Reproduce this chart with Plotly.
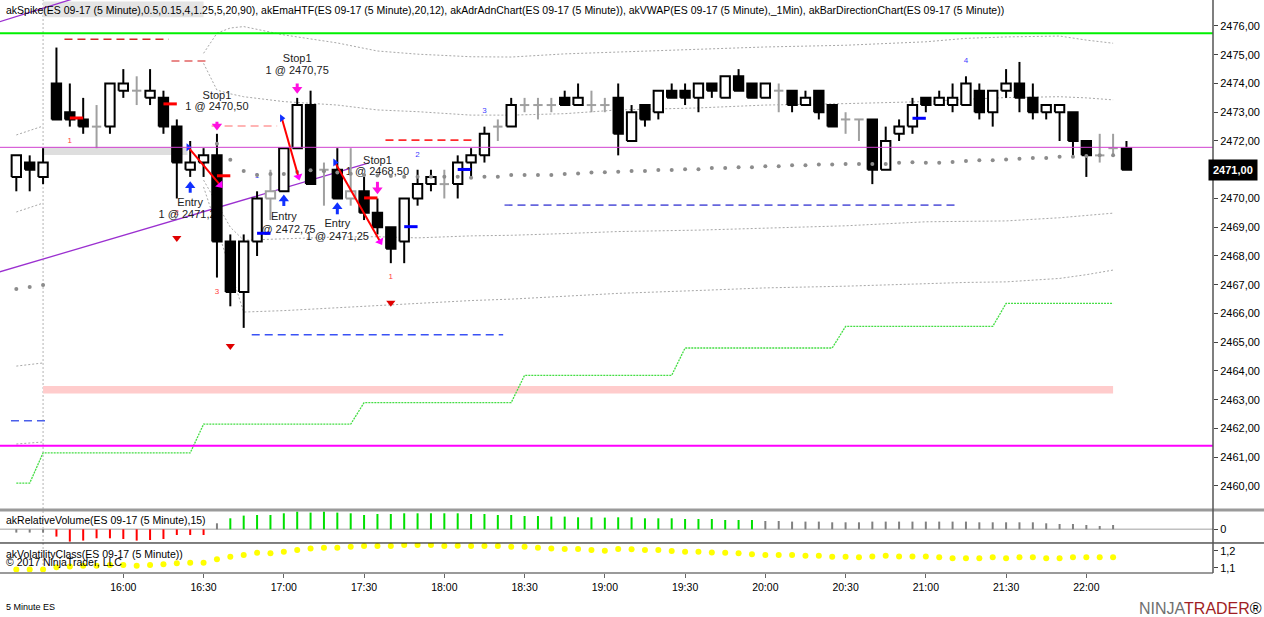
import plotly.graph_objects as go

# ---------------- data ----------------
# 5 minute bars of ES 09-17, index 0 = the 16:00 bar (index -8 = 15:20)
bars = list(range(-8, 76))

opens = [2470.75, 2471.25, 2470.75, 2474.0, 2473.0, 2472.75, 2472.5, 2472.5,
         2473.75, 2473.75, 2473.5, 2473.5, 2472.5, 2471.0, 2471.25, 2471.5,
         2468.5, 2466.75, 2468.5, 2470.0, 2470.25, 2471.75, 2473.25, 2471.0,
         2471.0, 2470.0, 2470.25, 2469.5, 2469.0, 2468.5, 2470.0, 2470.5,
         2470.5, 2470.5, 2471.25, 2471.5, 2472.5, 2472.5, 2473.25, 2473.25,
         2473.25, 2473.5, 2473.25, 2473.25, 2473.25, 2473.5, 2472.0, 2473.25,
         2473.0, 2473.75, 2473.75, 2473.5, 2474.0, 2473.5, 2474.25, 2474.0,
         2473.5, 2473.75, 2473.75, 2473.25, 2473.75, 2473.25, 2472.75, 2472.75,
         2472.75, 2471.0, 2472.25, 2472.5, 2473.5, 2473.25, 2473.25, 2473.25,
         2473.75, 2473.0, 2473.75, 2474.0, 2473.5, 2473.0, 2473.0, 2473.0,
         2472.0, 2471.5, 2471.75, 2471.75]
highs = [2471.5, 2471.5, 2471.75, 2475.25, 2474.0, 2473.5, 2473.25, 2474.0,
         2474.5, 2474.25, 2474.5, 2473.75, 2472.75, 2472.0, 2471.75, 2472.25,
         2468.75, 2468.75, 2470.25, 2471.0, 2471.75, 2473.5, 2473.75, 2471.25,
         2471.75, 2471.75, 2470.75, 2470.0, 2469.0, 2470.0, 2471.0, 2471.0,
         2471.0, 2471.5, 2471.75, 2472.5, 2472.75, 2473.5, 2473.5, 2473.5,
         2473.5, 2473.75, 2474.0, 2473.75, 2473.5, 2474.0, 2473.25, 2473.25,
         2473.75, 2474.0, 2474.0, 2474.0, 2474.0, 2474.25, 2474.5, 2474.0,
         2474.0, 2474.0, 2473.75, 2473.75, 2473.75, 2473.25, 2473.0, 2472.75,
         2472.75, 2472.5, 2472.75, 2473.5, 2473.5, 2473.75, 2474.0, 2474.25,
         2474.0, 2473.75, 2474.5, 2474.75, 2474.0, 2473.25, 2473.25, 2473.0,
         2472.0, 2472.25, 2472.25, 2472.0]
lows = [2470.25, 2470.25, 2470.5, 2472.75, 2472.5, 2472.25, 2471.75, 2472.25,
        2473.5, 2473.25, 2473.25, 2472.25, 2470.0, 2470.75, 2470.75, 2467.25,
        2466.25, 2465.5, 2468.0, 2469.25, 2470.25, 2471.75, 2470.5, 2469.75,
        2470.0, 2469.75, 2469.25, 2468.75, 2467.75, 2467.75, 2469.75, 2470.25,
        2470.0, 2470.0, 2470.75, 2471.25, 2472.0, 2472.5, 2473.0, 2472.75,
        2473.0, 2473.25, 2473.25, 2473.0, 2473.0, 2471.5, 2472.0, 2472.5,
        2472.75, 2473.5, 2473.25, 2473.0, 2473.5, 2473.5, 2473.75, 2473.5,
        2473.5, 2473.0, 2473.0, 2473.25, 2472.75, 2472.5, 2472.25, 2472.0,
        2470.5, 2471.0, 2472.0, 2472.25, 2473.0, 2473.25, 2473.0, 2473.25,
        2472.75, 2472.5, 2473.5, 2473.0, 2472.75, 2472.75, 2472.0, 2471.5,
        2470.75, 2471.25, 2471.5, 2471.0]
closes = [2471.5, 2471.0, 2471.25, 2472.75, 2472.75, 2472.5, 2472.5, 2474.0,
          2474.0, 2473.75, 2473.75, 2472.5, 2471.25, 2471.25, 2471.5, 2468.5,
          2466.75, 2468.5, 2470.0, 2470.25, 2471.75, 2473.25, 2470.5, 2471.0,
          2470.0, 2470.25, 2469.5, 2469.0, 2468.25, 2470.0, 2470.5, 2470.75,
          2470.5, 2471.25, 2471.5, 2472.25, 2472.5, 2473.25, 2473.25, 2473.25,
          2473.25, 2473.25, 2473.5, 2473.25, 2473.25, 2472.25, 2473.0, 2472.75,
          2473.75, 2473.5, 2473.5, 2474.0, 2473.75, 2474.25, 2473.75, 2473.5,
          2474.0, 2473.75, 2473.25, 2473.5, 2473.0, 2472.5, 2472.75, 2472.75,
          2471.0, 2472.0, 2472.5, 2473.25, 2473.25, 2473.5, 2473.5, 2474.0,
          2473.0, 2473.75, 2474.0, 2473.5, 2473.0, 2473.25, 2473.25, 2472.0,
          2471.5, 2471.5, 2471.75, 2471.0]
# bars painted grey by akBarDirectionChart
neutral_bars = [-2, 1, 11, 15, 17, 24, 28, 30, 31, 32, 35, 36, 49, 54, 55, 73, 74]

tick_bars = [0, 6, 12, 18, 24, 30, 36, 42, 48, 54, 60, 66, 72]
tick_labels = ['16:00', '16:30', '17:00', '17:30', '18:00', '18:30', '19:00',
               '19:30', '20:00', '20:30', '21:00', '21:30', '22:00']
session_break = -6

# akVWAP dots
vwap_bars = [-8, -7, -6] + list(range(7, 75))
vwap = [2466.85, 2466.92, 2466.99,
        2471.9, 2471.35, 2470.96, 2470.82, 2470.85, 2470.85, 2470.92, 2470.98,
        2470.95, 2470.9, 2470.86, 2470.82, 2470.8, 2470.78, 2470.76, 2470.76,
        2470.76, 2470.76, 2470.76, 2470.72, 2470.76, 2470.76, 2470.82, 2470.82,
        2470.82, 2470.82, 2470.85, 2470.87, 2470.9, 2470.91, 2470.93, 2470.96,
        2470.96, 2470.99, 2470.99, 2471.02, 2471.02, 2471.06, 2471.06, 2471.09,
        2471.09, 2471.12, 2471.12, 2471.16, 2471.16, 2471.18, 2471.18, 2471.2,
        2471.2, 2471.2, 2471.2, 2471.24, 2471.26, 2471.24, 2471.24, 2471.27,
        2471.3, 2471.33, 2471.33, 2471.36, 2471.38, 2471.41, 2471.41, 2471.45,
        2471.45, 2471.48, 2471.5, 2471.5]

# deviation bands around the VWAP (read at selected bars, None = gap)
band_bars = [-8, -6, None, 6, 7, 8, 9, 12, 16, 19, 22, 26, 29, 33, 37, 43,
             48, 54, 60, 63, 66, 70, 72, 74]
band_top = [2472.21, 2472.52, None, 2475.05, 2475.75, 2475.93, 2475.98, 2475.69,
            2475.41, 2475.13, 2475.02, 2474.93, 2474.92, 2475.03, 2475.1, 2475.2,
            2475.27, 2475.33, 2475.45, 2475.57, 2475.62, 2475.65, 2475.51, 2475.4]
band_up = [2469.53, 2469.84, None, 2474.7, 2473.77, 2473.64, 2473.54, 2473.37,
           2473.25, 2473.08, 2473.02, 2472.9, 2472.9, 2472.95, 2473.08, 2473.15,
           2473.25, 2473.3, 2473.37, 2473.45, 2473.51, 2473.54, 2473.5, 2473.43]
band_dn = [2464.17, 2464.28, None, 2470.64, 2469.8, 2469.0, 2468.55, 2468.6,
           2468.66, 2468.67, 2468.63, 2468.7, 2468.72, 2468.78, 2468.85, 2468.9,
           2468.97, 2469.05, 2469.19, 2469.2, 2469.22, 2469.33, 2469.4, 2469.49]
band_low = [2461.46, 2461.53, None, 2470.4, 2469.0, 2467.5, 2466.05, 2466.1,
            2466.2, 2466.3, 2466.35, 2466.45, 2466.5, 2466.6, 2466.7, 2466.8,
            2466.89, 2466.95, 2467.05, 2467.08, 2467.1, 2467.22, 2467.35, 2467.51]

# akAdrAdnChart step line (corners)
adr_bars = [-8, -7, -6, 5, 6, 17, 18, 29, 30, 41, 42, 53, 54, 65, 66, 74]
adr_vals = [2460.1, 2460.1, 2461.15, 2461.15, 2462.15, 2462.15, 2462.9, 2462.9,
            2463.85, 2463.85, 2464.8, 2464.8, 2465.55, 2465.55, 2466.35, 2466.35]

# akEmaHTF channel (purple)
chan_lo_x = [-9.3, 18.3]
chan_lo_y = [2467.44, 2471.23]
chan_hi_x = [-9.3, -3.5]
chan_hi_y = [2476.14, 2476.98]

# full width levels
level_green = 2475.75
level_magenta = 2461.4
level_thin = 2471.78

# short dashed levels
dash_x0 = [-4.4, 3.6, 6.6, 19.6, 9.6, 28.5, -8.4]
dash_x1 = [3.4, 6.3, 11.5, 26.3, 28.4, 62.4, -5.6]
dash_px = [2475.54, 2474.78, 2472.52, 2472.03, 2465.26, 2469.77, 2462.27]
dash_colors = ['#D02A2A', '#E26464', '#FF9C9C', '#FF2A2A', '#3A52F5', '#6666DD', '#4A5FEA']

# zones
pink_zone = (-6, 74, 2463.22, 2463.48)
spike_zone = (-6, 4.8, 2471.51, 2471.79)
header_zone = (-6, 6, 2476.3, 2476.85)

# akEmaHTF crossing ticks
red_tick_bars = [-4, 3, 7, 18]
red_tick_px = [2472.8, 2473.29, 2470.79, 2470.02]
blue_tick_bars = [10, 21, 25, 59]
blue_tick_px = [2468.79, 2469.02, 2471.01, 2472.79]

# akSpike counters and triangles
red_num_bars = [-4, 4, 7, 20]
red_num_px = [2472.0, 2469.5, 2466.75, 2467.27]
red_num_txt = ['1', '2', '3', '1']
blue_num_bars = [10, 22, 27, 63]
blue_num_px = [2470.78, 2471.51, 2473.04, 2474.78]
blue_num_txt = ['1', '2', '3', '4']
red_tri_bars = [4, 8, 20]
red_tri_px = [2468.63, 2464.87, 2466.37]

# signal legs (blue start triangle -> magenta head)
leg_x0 = [4.86, 11.85, 15.83]
leg_y0 = [2471.78, 2472.79, 2471.25]
leg_x1 = [7.23, 13.09, 19.2]
leg_y1 = [2470.47, 2470.76, 2468.5]

# executions
entry_bars = [5, 12, 16]
entry_tip = [2470.58, 2470.12, 2469.85]
entry_base = [2470.2, 2469.74, 2469.45]
entry_label_px = [2469.85, 2469.35, 2469.11]
entry_txt = ['1 @ 2471,25', '1 @ 2472,75', '1 @ 2471,25']
entry_txt_px = [2469.43, 2468.9, 2468.65]
stop_bars = [7, 13, 19]
stop_tip = [2472.38, 2473.66, 2470.16]
stop_base = [2472.67, 2474.0, 2470.58]
stop_label_px = [2473.57, 2474.84, 2471.31]
stop_txt = ['1 @ 2470,50', '1 @ 2470,75', '1 @ 2468,50']
stop_txt_px = [2473.17, 2474.43, 2470.91]

# akRelativeVolume (bars -8..74)
rvol = [-0.33, -0.33, -0.33, -0.73, -1.23, -1.13, -0.9, -0.9,
        -0.97, -1.13, -1.07, -0.97, -0.57, -0.57, -0.57, 0.6,
        1.1, 1.37, 1.43, 1.43, 1.6, 1.77, 1.67, 1.77,
        1.67, 1.6, 1.43, 1.53, 1.53, 1.6, 1.6, 1.6,
        1.6, 1.6, 1.53, 1.53, 1.43, 1.43, 1.33, 1.33,
        1.27, 1.27, 1.2, 1.2, 1.17, 1.2, 1.2, 1.1,
        1.1, 1.1, 1.03, 1.03, 1.03, 0.93, 0.93, 0.93,
        0.83, 0.83, 0.77, 0.77, 0.77, 0.7, 0.7, 0.7,
        0.77, 0.77, 0.77, 0.77, 0.77, 0.77, 0.77, 0.77,
        0.7, 0.7, 0.7, 0.7, 0.7, 0.6, 0.53, 0.53,
        0.43, 0.33, 0.43]
red_rvol = range(-5, 7)
green_rvol = range(8, 48)

# akVolatilityClass (bars -8..74)
volclass = [1.092, 1.092, 1.092, 1.104, 1.108, 1.113, 1.113, 1.117,
            1.117, 1.113, 1.117, 1.121, 1.127, 1.131, 1.131, 1.150,
            1.165, 1.175, 1.188, 1.185, 1.194, 1.204, 1.213, 1.217,
            1.217, 1.223, 1.227, 1.227, 1.227, 1.233, 1.233, 1.233,
            1.227, 1.229, 1.227, 1.227, 1.227, 1.223, 1.223, 1.217,
            1.213, 1.210, 1.210, 1.204, 1.200, 1.210, 1.208, 1.204,
            1.204, 1.198, 1.194, 1.194, 1.190, 1.188, 1.185, 1.179,
            1.175, 1.175, 1.175, 1.171, 1.171, 1.165, 1.165, 1.162,
            1.167, 1.171, 1.167, 1.167, 1.167, 1.162, 1.156, 1.156,
            1.156, 1.162, 1.156, 1.162, 1.162, 1.156, 1.156, 1.162,
            1.162, 1.162, 1.162]

title_txt = ('akSpike(ES 09-17 (5 Minute),0.5,0.15,4,1.25,5,20,90), akEmaHTF(ES 09-17 (5 Minute),20,12), '
             'akAdrAdnChart(ES 09-17 (5 Minute)), akVWAP(ES 09-17 (5 Minute),_1Min), '
             'akBarDirectionChart(ES 09-17 (5 Minute))')

# ---------------- figure ----------------
FONT = 'Liberation Sans, Arial, sans-serif'
W = 0.35      # half candle width in bars
HEAD = 0.14   # arrow head centre offset from the tip (price units)
fig = go.Figure()

# bands, step line, channel, dashed levels
for vals in (band_top, band_up, band_dn, band_low):
    fig.add_trace(go.Scatter(x=band_bars, y=vals, mode='lines', connectgaps=False,
                             line=dict(color='#A8A8A8', width=1, dash='2px,2px')))
fig.add_trace(go.Scatter(x=adr_bars, y=adr_vals, mode='lines',
                         line=dict(color='#44DD44', width=1.3, dash='2px,1px')))
fig.add_trace(go.Scatter(x=chan_lo_x, y=chan_lo_y, mode='lines', line=dict(color='#9B30D0', width=1.3)))
fig.add_trace(go.Scatter(x=chan_hi_x, y=chan_hi_y, mode='lines', line=dict(color='#9B30D0', width=1.3)))
for x0, x1, p, col in zip(dash_x0, dash_x1, dash_px, dash_colors):
    fig.add_trace(go.Scatter(x=[x0, x1], y=[p, p], mode='lines',
                             line=dict(color=col, width=1.6, dash='8px,5px')))

# small counters and the order texts (drawn below the candles)
fig.add_trace(go.Scatter(x=red_num_bars, y=red_num_px, text=red_num_txt, mode='text',
                         textfont=dict(family=FONT, size=8, color='#FF4040')))
fig.add_trace(go.Scatter(x=blue_num_bars, y=blue_num_px, text=blue_num_txt, mode='text',
                         textfont=dict(family=FONT, size=8, color='#4040FF')))
fig.add_trace(go.Scatter(x=entry_bars + stop_bars, y=entry_label_px + stop_label_px,
                         text=['Entry'] * len(entry_bars) + ['Stop1'] * len(stop_bars),
                         mode='text', textfont=dict(family=FONT, size=11, color='#222')))
fig.add_trace(go.Scatter(x=entry_bars + stop_bars, y=entry_txt_px + stop_txt_px,
                         text=entry_txt + stop_txt,
                         mode='text', textfont=dict(family=FONT, size=11, color='#222')))

# candles
wick_x, wick_y, gwick_x, gwick_y = [], [], [], []
up_x, up_y, dn_x, dn_y, gb_x, gb_y, doji_x, doji_y = [], [], [], [], [], [], [], []
for b, o, h, l, c in zip(bars, opens, highs, lows, closes):
    gray = b in neutral_bars
    if gray:
        gwick_x += [b, b, None]
        gwick_y += [l, h, None]
    else:
        wick_x += [b, b, None]
        wick_y += [l, h, None]
    lo, hi = min(o, c), max(o, c)
    bx = [b - W, b + W, b + W, b - W, b - W, None]
    by = [lo, lo, hi, hi, lo, None]
    if o == c:
        doji_x += [b - W, b + W, None]
        doji_y += [o, o, None]
    elif gray:
        gb_x += bx
        gb_y += by
    elif c > o:
        up_x += bx
        up_y += by
    else:
        dn_x += bx
        dn_y += by

fig.add_trace(go.Scatter(x=gwick_x, y=gwick_y, mode='lines', line=dict(color='#A0A0A0', width=2)))
fig.add_trace(go.Scatter(x=wick_x, y=wick_y, mode='lines', line=dict(color='black', width=2)))
fig.add_trace(go.Scatter(x=up_x, y=up_y, mode='lines', fill='toself', fillcolor='white',
                         line=dict(color='black', width=2)))
fig.add_trace(go.Scatter(x=dn_x, y=dn_y, mode='lines', fill='toself', fillcolor='black',
                         line=dict(color='black', width=2)))
fig.add_trace(go.Scatter(x=gb_x, y=gb_y, mode='lines', fill='toself', fillcolor='white',
                         line=dict(color='#A0A0A0', width=2)))
fig.add_trace(go.Scatter(x=doji_x, y=doji_y, mode='lines', line=dict(color='#A0A0A0', width=2)))

# vwap dots
fig.add_trace(go.Scatter(x=vwap_bars, y=vwap, mode='markers',
                         marker=dict(color='#8C8C8C', size=4)))

# ema ticks
for tb, tp, col in ((red_tick_bars, red_tick_px, '#FF0000'), (blue_tick_bars, blue_tick_px, '#0000FF')):
    tx, ty = [], []
    for b, p in zip(tb, tp):
        tx += [b, b + 1, None]
        ty += [p, p, None]
    fig.add_trace(go.Scatter(x=tx, y=ty, mode='lines', line=dict(color=col, width=3)))

# signal legs: red line, then magenta head on top
lx, ly = [], []
for x0, y0, x1, y1 in zip(leg_x0, leg_y0, leg_x1, leg_y1):
    lx += [x0, x1, None]
    ly += [y0, y1, None]
fig.add_trace(go.Scatter(x=lx, y=ly, mode='lines', line=dict(color='#FF0000', width=2)))
for x0, y0, x1, y1 in zip(leg_x0, leg_y0, leg_x1, leg_y1):
    fig.add_trace(go.Scatter(x=[x0, x1], y=[y0, y1], mode='markers',
                             marker=dict(symbol='triangle-up', size=8, angleref='previous',
                                         color=['rgba(0,0,0,0)', '#FF00FF'])))
fig.add_trace(go.Scatter(x=leg_x0, y=leg_y0, mode='markers',
                         marker=dict(symbol='triangle-right', size=7, color='#1030FF')))
fig.add_trace(go.Scatter(x=red_tri_bars, y=red_tri_px, mode='markers',
                         marker=dict(symbol='triangle-down', size=8, color='#E00000')))

# entry (blue, up) and stop (magenta, down) arrows
for xs, tips, bases, col, sym, sgn in ((entry_bars, entry_tip, entry_base, '#1030FF', 'triangle-up', -1),
                                       (stop_bars, stop_tip, stop_base, '#FF10E0', 'triangle-down', 1)):
    sx, sy = [], []
    for b, t, s in zip(xs, tips, bases):
        sx += [b, b, None]
        sy += [s, t + sgn * HEAD, None]
    fig.add_trace(go.Scatter(x=sx, y=sy, mode='lines', line=dict(color=col, width=3)))
    fig.add_trace(go.Scatter(x=xs, y=[t + sgn * HEAD for t in tips], mode='markers',
                             marker=dict(symbol=sym, size=9, color=col)))

# lower panels
vx = {'gray': [], 'red': [], 'green': []}
vy = {'gray': [], 'red': [], 'green': []}
for b, v in zip(bars, rvol):
    key = 'red' if b in red_rvol else ('green' if b in green_rvol else 'gray')
    vx[key] += [b, b, None]
    vy[key] += [0, v, None]
for key, col in (('gray', '#808080'), ('red', '#FF0000'), ('green', '#00E000')):
    fig.add_trace(go.Scatter(x=vx[key], y=vy[key], mode='lines', yaxis='y2',
                             line=dict(color=col, width=2)))
fig.add_trace(go.Scatter(x=bars[:len(volclass)], y=volclass, mode='markers', yaxis='y3',
                         marker=dict(color='#FFFF00', size=6)))

# zones and levels
shapes = []
for (x0, x1, y0, y1), col in ((pink_zone, '#FFCCCC'), (spike_zone, '#DEDEDE'), (header_zone, '#E4E4E4')):
    shapes.append(dict(type='rect', xref='x', yref='y', x0=x0, x1=x1, y0=y0, y1=y1,
                       fillcolor=col, line=dict(width=0), layer='below'))
shapes.append(dict(type='line', xref='x', yref='paper', x0=session_break, x1=session_break,
                   y0=0, y1=1, line=dict(color='#B4B4B4', width=1, dash='2px,2px'), layer='below'))
shapes.append(dict(type='line', xref='paper', yref='y', x0=0, x1=1, y0=level_green, y1=level_green,
                   line=dict(color='#00F000', width=2)))
shapes.append(dict(type='line', xref='paper', yref='y', x0=0, x1=1, y0=level_magenta, y1=level_magenta,
                   line=dict(color='#FF00FF', width=2)))
shapes.append(dict(type='line', xref='paper', yref='y', x0=0, x1=1, y0=level_thin, y1=level_thin,
                   line=dict(color='#D040D0', width=1)))
# panel frames
shapes.append(dict(type='line', xref='paper', yref='y2', x0=0, x1=1, y0=0, y1=0,
                   line=dict(color='#C0C0C0', width=1.5), layer='below'))
shapes.append(dict(type='line', xref='paper', yref='paper', x0=0, x1=1.05, y0=0.10995, y1=0.10995,
                   line=dict(color='#9A9A9A', width=3)))
shapes.append(dict(type='line', xref='paper', yref='paper', x0=0, x1=1.05, y0=0.05236, y1=0.05236,
                   line=dict(color='black', width=1)))
shapes.append(dict(type='line', xref='paper', yref='paper', x0=0, x1=1, y0=0, y1=0,
                   line=dict(color='#9A9A9A', width=2)))
shapes.append(dict(type='line', xref='paper', yref='paper', x0=1, x1=1, y0=0, y1=1,
                   line=dict(color='#555555', width=1.5)))

last_txt = f'{closes[-1]:.2f}'.replace('.', ',')
annotations = [
    dict(text=title_txt, xref='paper', yref='paper', x=0.003, y=0.9825, xanchor='left',
         yanchor='middle', showarrow=False, font=dict(family=FONT, size=10.5, color='black')),
    dict(text='akRelativeVolume(ES 09-17 (5 Minute),15)', xref='paper', yref='paper', x=0.003,
         y=0.0925, xanchor='left', yanchor='middle', showarrow=False,
         font=dict(family=FONT, size=10.5, color='black')),
    dict(text='akVolatilityClass(ES 09-17 (5 Minute))', xref='paper', yref='paper', x=0.003,
         y=0.034, xanchor='left', yanchor='middle', showarrow=False,
         font=dict(family=FONT, size=10.5, color='black')),
    dict(text='© 2017 NinjaTrader, LLC', xref='paper', yref='paper', x=0.003, y=0.02,
         xanchor='left', yanchor='middle', showarrow=False,
         font=dict(family=FONT, size=10.5, color='black')),
    dict(text='5 Minute ES', xref='paper', yref='paper', x=0.003, y=-0.0593, xanchor='left',
         yanchor='middle', showarrow=False, font=dict(family=FONT, size=9, color='black')),
    dict(text='<span style="color:#707070">NINJA</span><span style="color:#A01E24">TRADER</span>®',
         xref='paper', yref='paper', x=1.042, y=-0.0628, xanchor='right', yanchor='middle',
         showarrow=False, font=dict(family=FONT, size=16)),
    dict(text='<b>%s</b>' % last_txt, xref='paper', yref='y',
         x=1, y=closes[-1], xanchor='left', xshift=-5, yanchor='middle', showarrow=False,
         bgcolor='black', borderpad=4, font=dict(family=FONT, size=11, color='white')),
]

# price ticks (the 2471 label sits under the last-price marker)
price_ticks = [p for p in range(2460, 2477) if p != 2471]

fig.update_layout(
    width=1264, height=617,
    margin=dict(l=0, r=51, t=0, b=44),
    paper_bgcolor='white', plot_bgcolor='white',
    showlegend=False,
    separators=', ',
    font=dict(family=FONT, size=11, color='black'),
    shapes=shapes,
    annotations=annotations,
    xaxis=dict(range=[-9.22, 81.47], anchor='y3', tickvals=tick_bars, ticktext=tick_labels,
               ticks='outside', ticklen=4, tickcolor='#666', showgrid=False, zeroline=False,
               showline=False, tickfont=dict(family=FONT, size=10.5)),
    yaxis=dict(domain=[0.10995, 1], range=[2459.165, 2476.904], side='right', tickvals=price_ticks,
               tickformat='.2f', ticks='outside', ticklen=4, tickcolor='#444', showgrid=False,
               zeroline=False, tickfont=dict(family=FONT, size=11)),
    yaxis2=dict(domain=[0.05236, 0.10995], range=[-1.37, 1.93], side='right', tickvals=[0],
                ticks='outside', ticklen=4, tickcolor='#444', showgrid=False, zeroline=False,
                tickfont=dict(family=FONT, size=11)),
    yaxis3=dict(domain=[0, 0.05236], range=[1.0711, 1.2445], side='right', tickvals=[1.1, 1.2],
                tickformat='.1f', ticks='outside', ticklen=4, tickcolor='#444', showgrid=False,
                zeroline=False, tickfont=dict(family=FONT, size=11)),
)

fig.write_html("out.html", config={'displayModeBar': False},
               post_script="document.body.style.margin='0';")
